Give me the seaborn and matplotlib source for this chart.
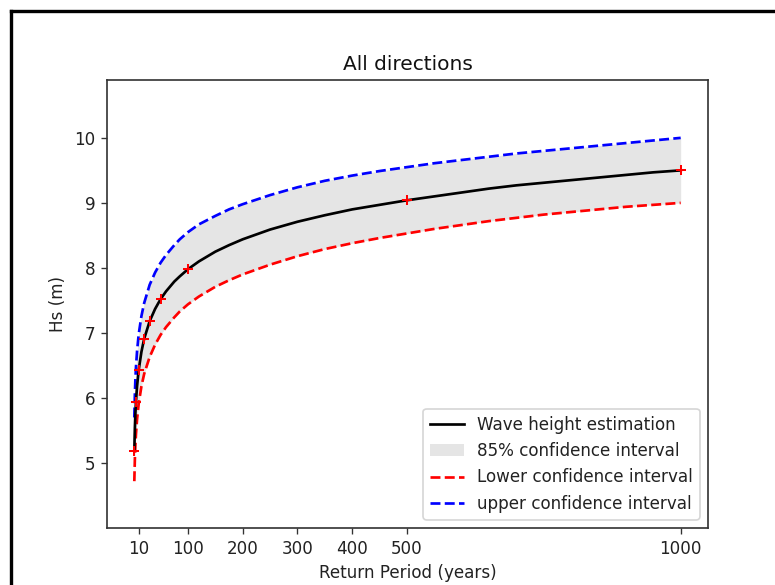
import matplotlib
matplotlib.use("Agg")
import matplotlib.pyplot as plt
from matplotlib.lines import Line2D
from matplotlib.patches import Patch
import seaborn as sns

# Return periods (years) and estimated significant wave heights (m)
return_period = [2, 3, 4, 5, 7, 10, 15, 20, 30, 40, 50, 60, 75, 85, 100, 120,
                 150, 175, 200, 250, 300, 350, 400, 450, 500, 550, 600, 650,
                 700, 750, 800, 850, 900, 950, 1000]
hs_estimate = [5.19, 5.54, 5.77, 5.94, 6.18, 6.43, 6.71, 6.91, 7.18, 7.37, 7.52,
               7.64, 7.79, 7.87, 7.98, 8.10, 8.25, 8.35, 8.44, 8.59, 8.71, 8.81,
               8.90, 8.97, 9.04, 9.10, 9.16, 9.22, 9.27, 9.31, 9.35, 9.39, 9.43,
               9.47, 9.50]
hs_upper = [5.70, 6.06, 6.30, 6.47, 6.72, 6.98, 7.26, 7.46, 7.74, 7.93, 8.08,
            8.20, 8.35, 8.44, 8.55, 8.67, 8.80, 8.90, 8.98, 9.12, 9.24, 9.34,
            9.42, 9.49, 9.55, 9.61, 9.66, 9.71, 9.76, 9.80, 9.84, 9.88, 9.92,
            9.96, 10.00]
hs_lower = [4.72, 5.06, 5.28, 5.44, 5.67, 5.91, 6.18, 6.37, 6.63, 6.82, 6.97,
            7.09, 7.24, 7.33, 7.44, 7.56, 7.71, 7.81, 7.90, 8.05, 8.18, 8.29,
            8.38, 8.46, 8.53, 8.60, 8.66, 8.72, 8.77, 8.82, 8.86, 8.90, 8.94,
            8.97, 9.00]

# Return levels at the fitted return periods
marker_period = [2, 5, 10, 20, 30, 50, 100, 500, 1000]
marker_hs = [5.19, 5.94, 6.43, 6.91, 7.18, 7.52, 7.98, 9.04, 9.50]

x_ticks = [10, 100, 200, 300, 400, 500, 1000]

DPI = 121
W, H = 775, 585
fig = plt.figure(figsize=(W / DPI, H / DPI), dpi=DPI)
ax = fig.add_axes([107 / W, 1 - 528 / H, (708 - 107) / W, (528 - 80) / H])

ax.fill_between(return_period, hs_lower, hs_upper, color="gray", alpha=0.2,
                linewidth=0)
sns.lineplot(x=return_period, y=hs_estimate, color="black", ax=ax,
             linewidth=1.6, zorder=3)
sns.lineplot(x=return_period, y=hs_lower, color="red", ax=ax,
             linestyle="--", linewidth=1.6, zorder=2)
sns.lineplot(x=return_period, y=hs_upper, color="blue", ax=ax,
             linestyle="--", linewidth=1.6, zorder=2)
sns.scatterplot(x=marker_period, y=marker_hs, marker="+", color="red", s=40,
                linewidth=1.2, ax=ax, zorder=4)

ax.set_xlim(-47.9, 1049.9)
ax.set_ylim(4.0, 10.89)
ax.set_xticks(x_ticks)
ax.set_xticklabels([str(t) for t in x_ticks])
ax.set_yticks([5, 6, 7, 8, 9, 10])
for spine in ax.spines.values():
    spine.set_color("#333333")
    spine.set_linewidth(1.0)
ax.tick_params(color="#333333", labelcolor="#222222")

ax.set_title("All directions", color="#111111")
ax.set_xlabel("Return Period (years)", color="#222222")
ax.set_ylabel("Hs (m)", color="#222222")

handles = [
    Line2D([], [], color="black", linewidth=1.6),
    Patch(facecolor="gray", alpha=0.2, linewidth=0),
    Line2D([], [], color="red", linestyle="--", linewidth=1.6),
    Line2D([], [], color="blue", linestyle="--", linewidth=1.6),
]
labels = ["Wave height estimation", "85% confidence interval",
          "Lower confidence interval", "upper confidence interval"]
leg = ax.legend(handles, labels, loc="lower right")
for txt in leg.get_texts():
    txt.set_color("#222222")

# Frame around the figure canvas
fig.add_artist(Line2D([10.5 / W, 10.5 / W], [0, 1 - 10.5 / H],
                      transform=fig.transFigure, color="black", linewidth=2))
fig.add_artist(Line2D([10.5 / W, 1], [1 - 10.5 / H, 1 - 10.5 / H],
                      transform=fig.transFigure, color="black", linewidth=2))

fig.savefig("out.png", dpi=DPI)
